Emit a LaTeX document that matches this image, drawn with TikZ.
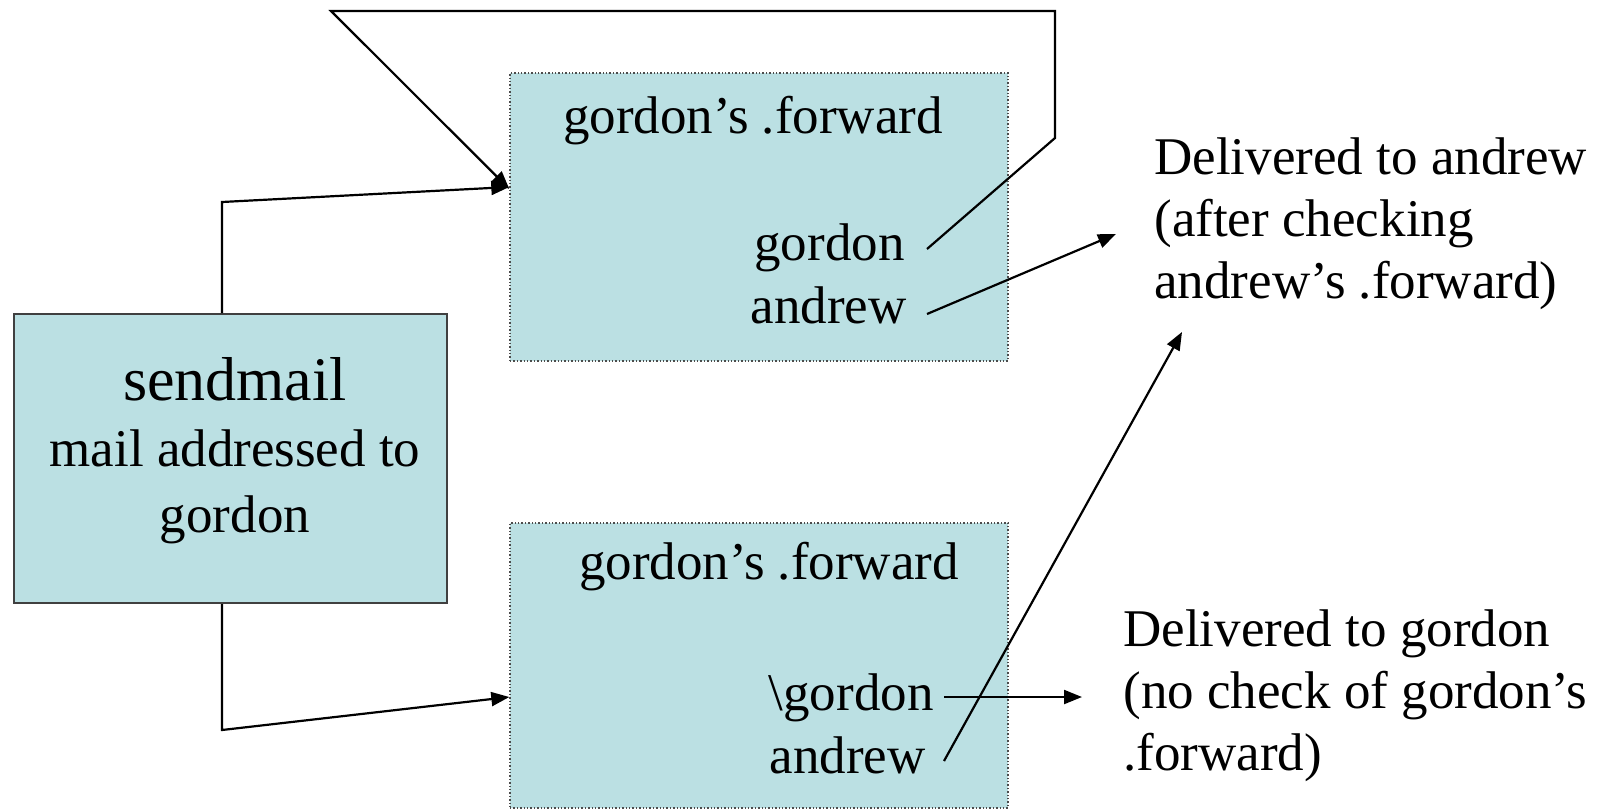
\documentclass[tikz,border=0pt]{standalone}
\usepackage{fontspec}
\setmainfont{Liberation Serif}
\usetikzlibrary{arrows.meta}
\definecolor{boxfill}{HTML}{BBE0E3}
\tikzset{
  lbl/.style={font=\fontsize{26.5}{31}\selectfont, inner sep=0pt},
  sendbox/.style={draw=black!75, line width=1pt, fill=boxfill, minimum width=216.5pt, minimum height=144.5pt, inner sep=0pt},
  fwdbox/.style={draw=black!70, densely dotted, line width=0.7pt, fill=boxfill, minimum width=249pt, inner sep=0pt},
  conn/.style={line width=1.1pt, line join=miter},
  arr/.style={conn, -{Triangle[length=9pt,width=7pt]}}
}
\begin{document}
\begin{tikzpicture}[x=0.5pt,y=-0.5pt]
\useasboundingbox (0,0) rectangle (1601,810);
% boxes
\node[sendbox] (send) at (230.5,458.5) {};
\node[fwdbox, minimum height=144pt] (top) at (759,217) {};
\node[fwdbox, minimum height=142.5pt] (bot) at (759,665.5) {};
% texts (base anchor = baseline of the last line)
\node[lbl, align=center, anchor=base, font=\fontsize{26.5}{33}\selectfont] (sendlbl) at (235,532)
  {{\fontsize{31}{33}\selectfont sendmail}\\mail addressed to\\gordon};
\node[lbl, anchor=base] (t1) at (753,133) {gordon's .forward};
\node[lbl, anchor=base east] (g1) at (905,260) {gordon};
\node[lbl, anchor=base east] (a1) at (907,323) {andrew};
\node[lbl, anchor=base] (t2) at (769,579) {gordon's .forward};
\node[lbl, anchor=base east] (g2) at (934,710) {\textbackslash gordon};
\node[lbl, anchor=base east] (a2) at (926,773) {andrew};
\node[lbl, align=left, anchor=base west] (dA) at (1154,298)
  {Delivered to andrew\\(after checking\\andrew's .forward)};
\node[lbl, align=left, anchor=base west] (dG) at (1123,770)
  {Delivered to gordon\\(no check of gordon's\\.forward)};
% bend points
\coordinate (s1) at (222,202);
\coordinate (s2) at (222,730);
\coordinate (l1) at (1055,138);
\coordinate (l2) at (1055,11);
\coordinate (l3) at (331,11);
\coordinate (eA) at (1116,234);
\coordinate (eB) at (1182,332);
\coordinate (eG) at (1082,697);
% connectors
\draw[arr] (send.north -| s1) -- (s1) -- ([yshift=15pt]top.west);
\draw[arr] (send.south -| s2) -- (s2) -- ([yshift=-15.75pt]bot.west);
\draw[arr] ([xshift=11pt,yshift=5.5pt]g1.base east) -- (l1) -- (l2) -- (l3) -- ([yshift=14pt]top.west);
\draw[arr] ([xshift=10pt,yshift=4.5pt]a1.base east) -- (eA);
\draw[arr] ([xshift=5pt,yshift=6.5pt]g2.base east) -- (eG);
\draw[arr] ([xshift=9pt,yshift=6pt]a2.base east) -- (eB);
\end{tikzpicture}
\end{document}
